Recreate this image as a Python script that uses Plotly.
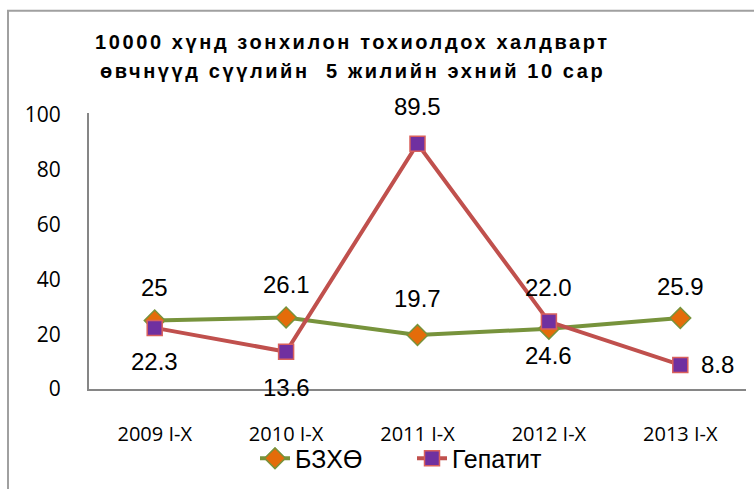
import plotly.graph_objects as go

# data
categories = ["2009 I-X", "2010 I-X", "2011 I-X", "2012 I-X", "2013 I-X"]
bzxo = [25, 26.1, 19.7, 22.0, 25.9]
hepatitis = [22.3, 13.6, 89.5, 24.6, 8.8]
bzxo_labels = ["25", "26.1", "19.7", "22.0", "25.9"]
hepatitis_labels = ["22.3", "13.6", "89.5", "24.6", "8.8"]
series_names = ["БЗХӨ", "Гепатит"]
title_lines = [
    "10000 хүнд зонхилон тохиолдох халдварт",
    "өвчнүүд сүүлийн  5 жилийн эхний 10 сар",
]
y_ticks = [0, 20, 40, 60, 80, 100]

W, H = 754, 489
L, R, T, B = 89, 8, 113, 98
PW, PH = W - L - R, H - T - B

GREEN = "#77933C"
ORANGE = "#E46C0A"
RED = "#C0504D"
PURPLE = "#7030A0"
AXIS = "#868686"
ARIAL = "Liberation Sans, Arial, sans-serif"
LABEL_FONT = dict(family=ARIAL, size=24, color="#000000")


def px_x(p):
    return (p - L) / PW


def px_y(p):
    return (H - B - p) / PH


fig = go.Figure()
fig.add_trace(go.Scatter(
    x=categories, y=bzxo, name=series_names[0], mode="lines+markers",
    line=dict(color=GREEN, width=4),
    marker=dict(symbol="diamond", size=16, color=ORANGE, line=dict(color=GREEN, width=1.5)),
))
fig.add_trace(go.Scatter(
    x=categories, y=hepatitis, name=series_names[1], mode="lines+markers",
    line=dict(color=RED, width=4),
    marker=dict(symbol="square", size=15, color=PURPLE, line=dict(color="#D9605C", width=1.5)),
))

# data labels, offsets in pixels
green_shift = [(0, 33), (0, 33), (0, 37), (0, 41), (0, 32)]
red_shift = [(0, -34), (0, -36), (0, 37), (0, -34), (37, 0)]
annotations = []
for cat, val, txt, (dx, dy) in zip(categories, bzxo, bzxo_labels, green_shift):
    annotations.append(dict(x=cat, y=val, text=txt, showarrow=False, xshift=dx, yshift=dy,
                            font=LABEL_FONT))
for cat, val, txt, (dx, dy) in zip(categories, hepatitis, hepatitis_labels, red_shift):
    annotations.append(dict(x=cat, y=val, text=txt, showarrow=False, xshift=dx, yshift=dy,
                            font=LABEL_FONT))

for i, line in enumerate(title_lines):
    annotations.append(dict(
        xref="paper", yref="paper", x=px_x(352), y=px_y(41 + 30 * i),
        text='<span style="letter-spacing:2.6px"><b>' + line + "</b></span>",
        showarrow=False, xanchor="center", yanchor="middle",
        font=dict(family=ARIAL, size=20, color="#000000"),
    ))

fig.update_layout(
    width=W, height=H,
    margin=dict(l=L, r=R, t=T, b=B, pad=0),
    plot_bgcolor="white", paper_bgcolor="white",
    showlegend=True,
    legend=dict(
        orientation="h", x=px_x(255), xanchor="left", y=px_y(461), yanchor="middle",
        font=dict(family=ARIAL, size=25, color="#000000"),
        bgcolor="rgba(0,0,0,0)",
        itemwidth=30, tracegroupgap=0,
        entrywidth=112, entrywidthmode="pixels",
    ),
    annotations=annotations,
    shapes=[dict(type="rect", xref="paper", yref="paper",
                 x0=px_x(8), x1=px_x(770), y0=px_y(10), y1=px_y(500),
                 line=dict(color="#A0A0A0", width=2), layer="below")],
)
fig.update_xaxes(
    type="category", range=[-0.5, 4.5], showgrid=False, zeroline=False,
    showline=True, linecolor=AXIS, linewidth=2, ticks="", ticklabelstandoff=26,
    tickfont=dict(family="Open Sans, Calibri, sans-serif", size=20, color="#000000"),
)
fig.update_yaxes(
    range=[0, 100.7], tickvals=y_ticks, showgrid=False, zeroline=False,
    showline=True, linecolor=AXIS, linewidth=2, ticks="", ticklabelstandoff=22,
    tickfont=dict(family="Open Sans, Calibri, sans-serif", size=21, color="#000000"),
)

fig.write_html("out.html", config={"displayModeBar": False},
               post_script="document.body.style.margin='0';")
